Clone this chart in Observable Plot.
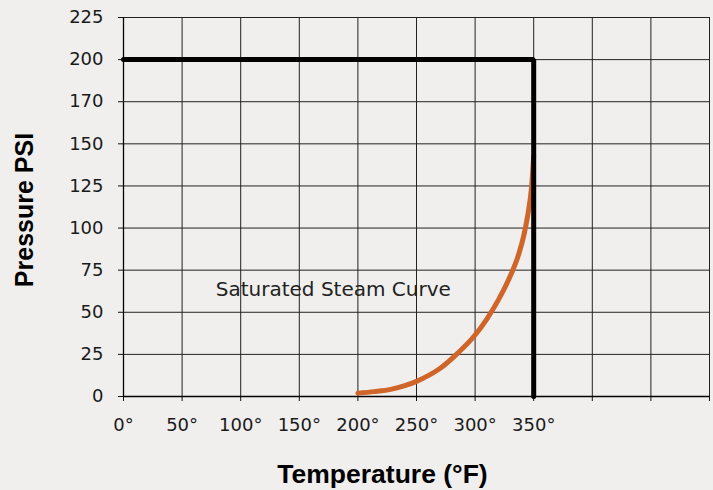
<!DOCTYPE html>
<html>
<head>
<meta charset="utf-8">
<script src="https://cdn.jsdelivr.net/npm/d3@7"></script>
<script src="https://cdn.jsdelivr.net/npm/@observablehq/plot@0.6"></script>
<style>
  html, body { margin: 0; padding: 0; background: #f0efed; }
  #chart { width: 713px; height: 490px; }
</style>
</head>
<body>
<div id="chart"></div>
<script>
// Tick values and labels
const xTicks = [0, 50, 100, 150, 200, 250, 300, 350, 400, 450, 500];
const xTickLabels = ["0°", "50°", "100°", "150°", "200°", "250°", "300°", "350°", "", "", ""];
const yTicks = [0, 25, 50, 75, 100, 125, 150, 175, 200, 225];
const yTickLabels = ["0", "25", "50", "75", "100", "125", "150", "170", "200", "225"];

// Operating limit (black line)
const limitTemp = [0, 350, 350];
const limitPressure = [200, 200, 0];

// Saturated steam curve (orange)
const steamTemp = [200, 214, 228, 240, 250, 260, 270, 285, 300, 310, 320, 330, 337, 342, 345.5, 348, 350];
const steamPressure = [2, 2.9, 4.2, 6.4, 9.0, 12.4, 16.6, 25.6, 36.5, 46, 57.5, 71.5, 84, 97, 110, 123, 143];

const annotation = [{t: 179, p: 63.6, label: "Saturated Steam Curve"}];

const limit = limitTemp.map((t, i) => ({t, p: limitPressure[i]}));
const steam = steamTemp.map((t, i) => ({t, p: steamPressure[i]}));

const chart = Plot.plot({
  width: 713,
  height: 490,
  marginLeft: 123,
  marginRight: 4,
  marginTop: 17,
  marginBottom: 94,
  style: {fontFamily: "DejaVu Sans", background: "#f0efed", color: "#111"},
  x: {domain: [0, 500]},
  y: {domain: [0, 225]},
  marks: [
    Plot.gridX(xTicks, {stroke: "#222", strokeOpacity: 1, strokeWidth: 1}),
    Plot.gridY(yTicks, {stroke: "#222", strokeOpacity: 1, strokeWidth: 1}),
    Plot.axisX(xTicks, {
      tickSize: 5, tickPadding: 17, fontSize: 18, label: null,
      tickFormat: d => xTickLabels[xTicks.indexOf(d)], stroke: "#111", fill: "#1a1a1a"
    }),
    Plot.axisY(yTicks, {
      tickSize: 5, tickPadding: 15, fontSize: 18, label: null,
      tickFormat: d => yTickLabels[yTicks.indexOf(d)], stroke: "#111", fill: "#1a1a1a"
    }),
    Plot.ruleX([0], {stroke: "#000", strokeWidth: 1.3}),
    Plot.ruleY([0], {stroke: "#000", strokeWidth: 1.3}),
    Plot.line(steam, {x: "t", y: "p", stroke: "#cf6529", strokeWidth: 5, curve: "monotone-x", strokeLinecap: "round"}),
    Plot.line(limit, {x: "t", y: "p", stroke: "#000", strokeWidth: 5, strokeLinejoin: "miter", strokeLinecap: "round"}),
    Plot.text(annotation, {x: "t", y: "p", text: "label", fontSize: 20, fill: "#222", lineAnchor: "middle"}),
    Plot.text(["Temperature (°F)"], {
      frameAnchor: "bottom", dx: -34, dy: 78, lineAnchor: "middle", textAnchor: "middle",
      fontFamily: "Liberation Sans", fontWeight: "bold", fontSize: 26.5, fill: "#000"
    }),
    Plot.text(["Pressure PSI"], {
      frameAnchor: "left", dx: -99, dy: 3, rotate: -90, lineAnchor: "middle", textAnchor: "middle",
      fontFamily: "Liberation Sans", fontWeight: "bold", fontSize: 25, fill: "#000"
    })
  ]
});
document.getElementById("chart").appendChild(chart);
</script>
</body>
</html>
